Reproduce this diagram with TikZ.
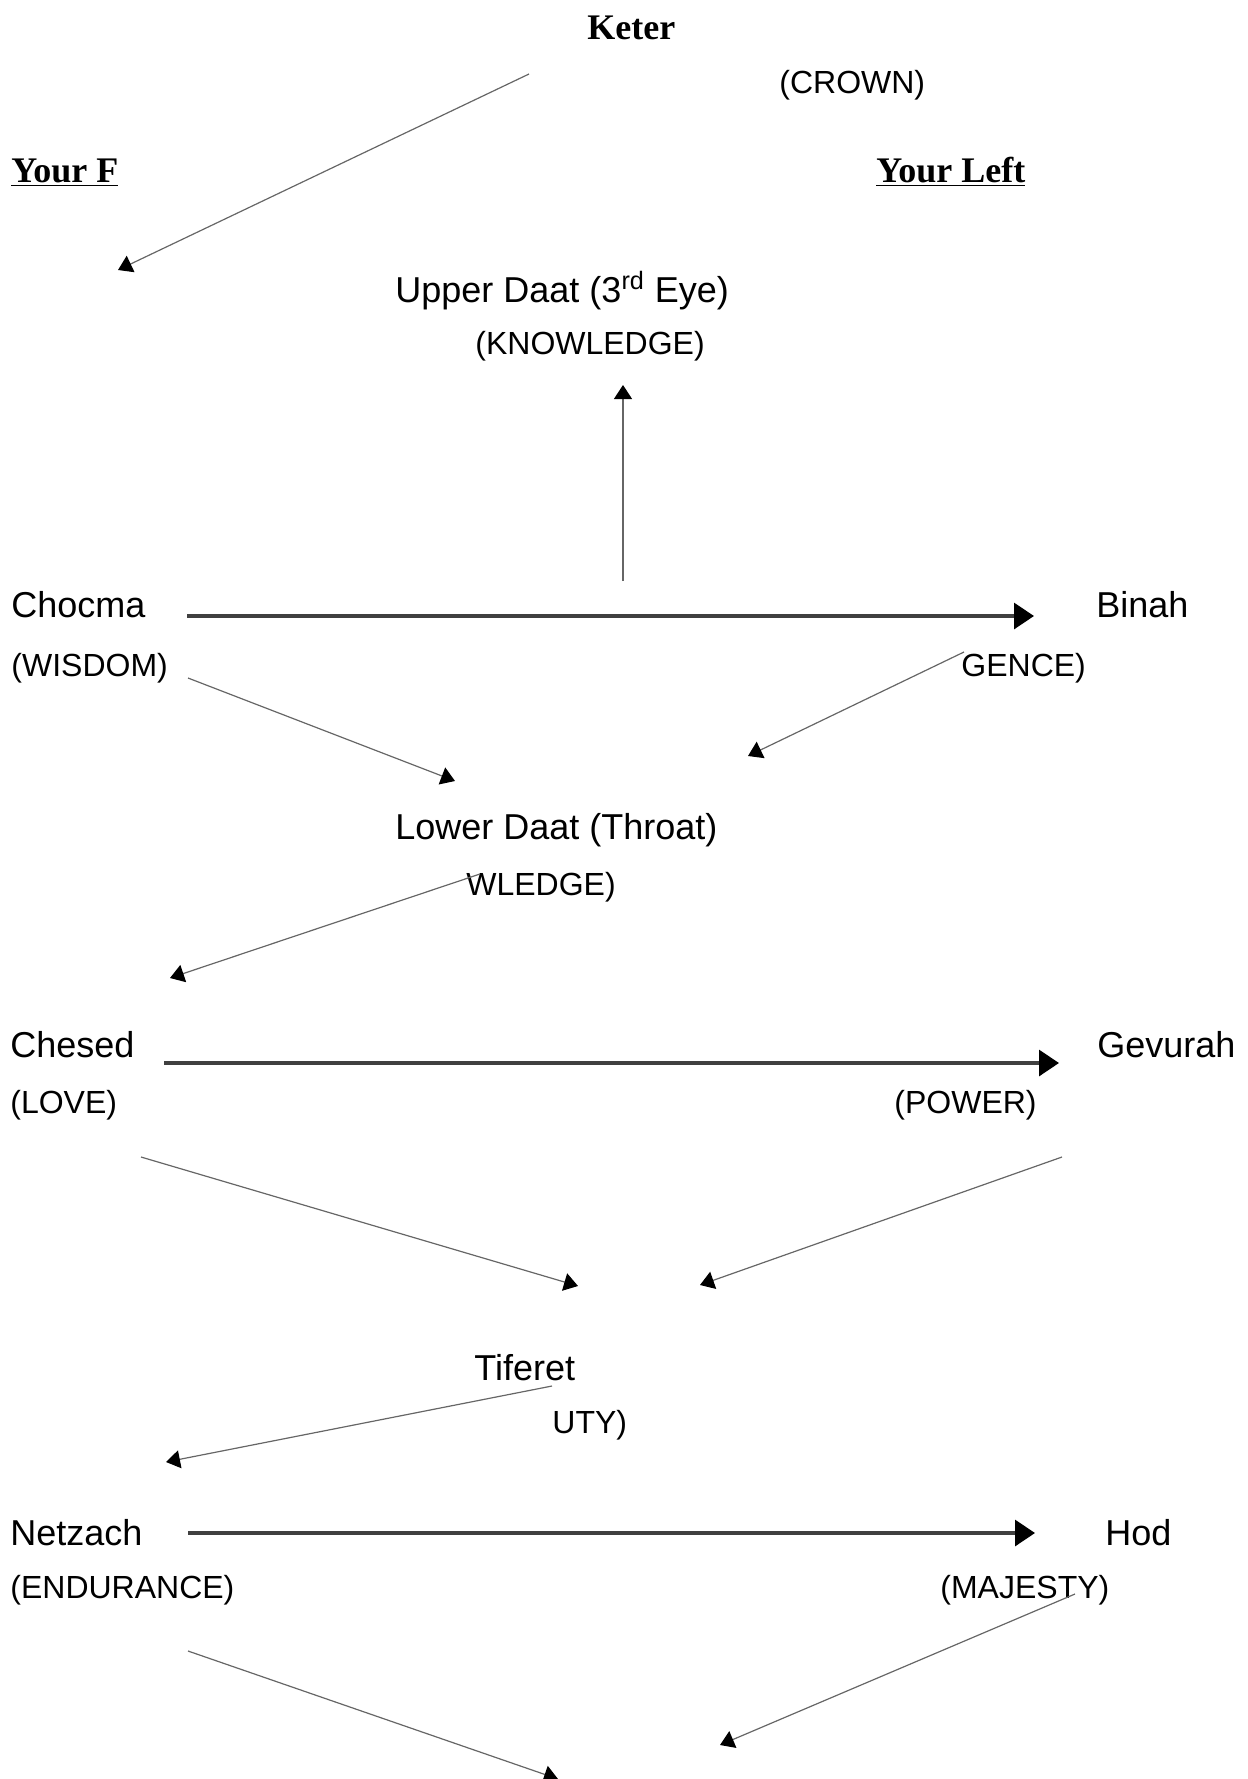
\documentclass[tikz,border=0pt]{standalone}
\usepackage{fontspec}
\setmainfont{Liberation Sans}
\newfontfamily\headfont{Liberation Serif}
\usetikzlibrary{arrows.meta}

\begin{document}
\begin{tikzpicture}[x=0.5pt,y=-0.5pt]
	\tikzset{sefira/.style = {anchor=base west, inner sep=0pt,
			font=\fontsize{18}{21}\selectfont}}
	\tikzset{meaning/.style = {anchor=base west, inner sep=0pt,
			font=\fontsize{16}{19}\selectfont}}
	\tikzset{side/.style = {anchor=base west, inner sep=0pt,
			font=\headfont\bfseries\fontsize{18}{21}\selectfont}}
	\tikzset{flow/.style = {-{Triangle[length=10pt,width=13pt,color=black]},
			line width=1.6pt, black!75}}
	\tikzset{edge/.style = {-{Triangle[length=7pt,width=9pt,color=black]},
			line width=0.6pt, black!60}}
	
	\useasboundingbox (0,0) rectangle (1248,1779);
	
	% vertices
	\node[side] (keter) at (587,39) {Keter};
	\node[meaning] (crown) at (779,93) {(CROWN)};
	\node[side] (right) at (11,182) {\underline{Your F}};
	\node[side] (left) at (876,182) {\underline{Your Left}};
	\node[sefira] (udaat) at (395,302) {Upper Daat (3\textsuperscript{rd} Eye)};
	\node[meaning] (uknow) at (475,354) {(KNOWLEDGE)};
	\node[sefira] (chocma) at (11,617) {Chocma};
	\node[meaning] (wisdom) at (11,676) {(WISDOM)};
	\node[sefira] (binah) at (1096,617) {Binah};
	\node[meaning] (intel) at (961,676) {GENCE)};
	\node[sefira] (ldaat) at (395,839) {Lower Daat (Throat)};
	\node[meaning] (lknow) at (466,895) {WLEDGE)};
	\node[sefira] (chesed) at (10,1057) {Chesed};
	\node[meaning] (love) at (10,1113) {(LOVE)};
	\node[sefira] (gevurah) at (1097,1057) {Gevurah};
	\node[meaning] (power) at (894,1113) {(POWER)};
	\node[sefira] (tiferet) at (474,1380) {Tiferet};
	\node[meaning] (beauty) at (552,1433) {UTY)};
	\node[sefira] (netzach) at (10,1545) {Netzach};
	\node[meaning] (endure) at (10,1598) {(ENDURANCE)};
	\node[sefira] (hod) at (1105,1545) {Hod};
	\node[meaning] (majesty) at (940,1598) {(MAJESTY)};
	
	% arrow ends
	\coordinate (k1) at (529,74);    \coordinate (k2) at (118,270);
	\coordinate (u1) at (623,581);   \coordinate (u2) at (623,385);
	\coordinate (c1) at (187,616);   \coordinate (c2) at (1034,616);
	\coordinate (w1) at (188,678);   \coordinate (w2) at (455,781);
	\coordinate (b1) at (964,652);   \coordinate (b2) at (748,756);
	\coordinate (l1) at (480,874);   \coordinate (l2) at (170,978);
	\coordinate (h1) at (164,1063);  \coordinate (h2) at (1059,1063);
	\coordinate (o1) at (141,1157);  \coordinate (o2) at (578,1286);
	\coordinate (p1) at (1062,1157); \coordinate (p2) at (700,1285);
	\coordinate (t1) at (552,1386);  \coordinate (t2) at (166,1462);
	\coordinate (n1) at (188,1533);  \coordinate (n2) at (1035,1533);
	\coordinate (e1) at (188,1651);  \coordinate (e2) at (558,1779);
	\coordinate (m1) at (1075,1594); \coordinate (m2) at (720,1745);
	
	%edges
	\draw[edge] (k1) to (k2);
	\draw[edge] (u1) to (u2);
	\draw[flow] (c1) to (c2);
	\draw[edge] (w1) to (w2);
	\draw[edge] (b1) to (b2);
	\draw[edge] (l1) to (l2);
	\draw[flow] (h1) to (h2);
	\draw[edge] (o1) to (o2);
	\draw[edge] (p1) to (p2);
	\draw[edge] (t1) to (t2);
	\draw[flow] (n1) to (n2);
	\draw[edge] (e1) to (e2);
	\draw[edge] (m1) to (m2);
	
\end{tikzpicture}
\end{document}
